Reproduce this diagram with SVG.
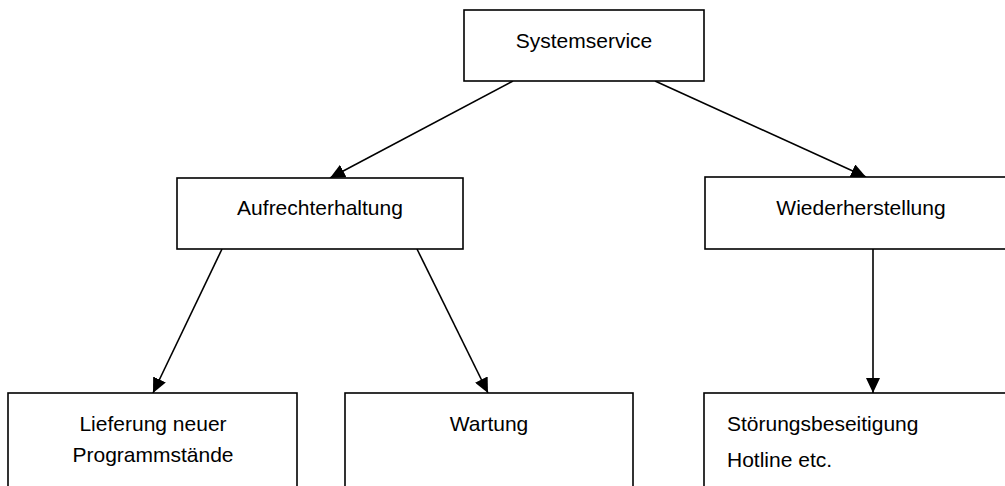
<svg xmlns="http://www.w3.org/2000/svg" width="1005" height="486" viewBox="0 0 1005 486">
<defs>
<marker id="ah" viewBox="0 0 15 14" refX="15" refY="7" markerWidth="15" markerHeight="14" markerUnits="userSpaceOnUse" orient="auto">
<path d="M0,0 L15,7 L0,14 z" fill="#000"/>
</marker>
<style>
.box{fill:#fff;stroke:#000;stroke-width:1.6}
.t{font-family:"Liberation Sans",Arial,sans-serif;font-size:21px;fill:#000}
.c{text-anchor:middle}
.ln{stroke:#000;stroke-width:1.6;fill:none;marker-end:url(#ah)}
</style>
</defs>
<rect width="1005" height="486" fill="#fff"/>
<g id="connectors">
<line class="ln" x1="513" y1="81" x2="330" y2="178"/>
<line class="ln" x1="655" y1="81" x2="866" y2="177"/>
<line class="ln" x1="222" y1="249" x2="153" y2="393"/>
<line class="ln" x1="417" y1="249" x2="488" y2="393"/>
<line class="ln" x1="873" y1="249" x2="873" y2="393"/>
</g>
<g id="systemservice">
<rect class="box" x="464" y="10" width="240" height="71"/>
<text class="t c" x="584" y="48">Systemservice</text>
</g>
<g id="aufrechterhaltung">
<rect class="box" x="177" y="178" width="286" height="71"/>
<text class="t c" x="320" y="215">Aufrechterhaltung</text>
</g>
<g id="wiederherstellung">
<rect class="box" x="705" y="177" width="330" height="72"/>
<text class="t c" x="861" y="215">Wiederherstellung</text>
</g>
<g id="lieferung">
<rect class="box" x="8" y="393" width="289" height="110"/>
<text class="t c" x="153" y="431">Lieferung neuer</text>
<text class="t c" x="153" y="462">Programmstände</text>
</g>
<g id="wartung">
<rect class="box" x="345" y="393" width="288" height="110"/>
<text class="t c" x="489" y="431">Wartung</text>
</g>
<g id="stoerung">
<rect class="box" x="704" y="393" width="330" height="110"/>
<text class="t" x="727" y="431">Störungsbeseitigung</text>
<text class="t" x="727" y="467">Hotline etc.</text>
</g>
</svg>
